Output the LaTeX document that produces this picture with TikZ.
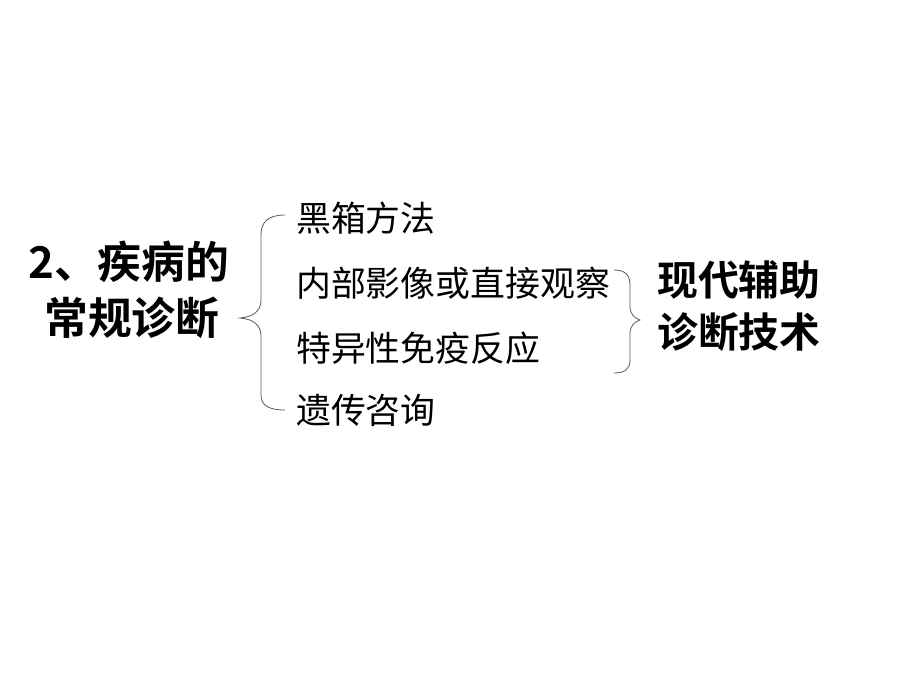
\documentclass[tikz,border=0pt]{standalone}
\usepackage{fontspec}
\newfontfamily\cjk{Noto Sans CJK SC}
\newfontfamily\cjkb{Noto Sans CJK SC Bold}
\begin{document}
\begin{tikzpicture}[x=1bp,y=-1bp,
  item/.style={anchor=west,inner sep=0pt,font=\cjk\fontsize{35}{40}\selectfont},
  bold/.style={anchor=west,inner sep=0pt,font=\cjkb\fontsize{41}{46}\selectfont},
  boldl/.style={anchor=west,inner sep=0pt,font=\cjkb\fontsize{44}{50}\selectfont}]
\useasboundingbox[fill=white] (0,0) rectangle (920,690);
\tikzset{brace/.style={draw=gray!70!black,line width=0.8bp}}
\node[boldl] (t1) at (28,262) {2、疾病的};
\node[boldl] (t2) at (44,318) {常规诊断};
\node[item] (a) at (296,218) {黑箱方法};
\node[item] (b) at (296,283) {内部影像或直接观察};
\node[item] (c) at (296,348) {特异性免疫反应};
\node[item] (d) at (296,410) {遗传咨询};
\node[bold] (r1) at (657,280) {现代辅助};
\node[bold] (r2) at (657,332) {诊断技术};
\draw[brace] (285,215) .. controls (268,215) and (261,222) .. (261,235)
  -- (261,300) .. controls (261,312) and (252,317) .. (240,318)
  .. controls (252,319) and (261,324) .. (261,336)
  -- (261,395) .. controls (261,405) and (268,410) .. (285,410);
\draw[brace] (614,270) .. controls (625,270) and (630,275) .. (630,285)
  -- (630,306) .. controls (630,314) and (634,318) .. (640,320)
  .. controls (634,322) and (630,326) .. (630,334)
  -- (630,360) .. controls (630,369) and (625,373) .. (614,373);
\end{tikzpicture}
\end{document}
